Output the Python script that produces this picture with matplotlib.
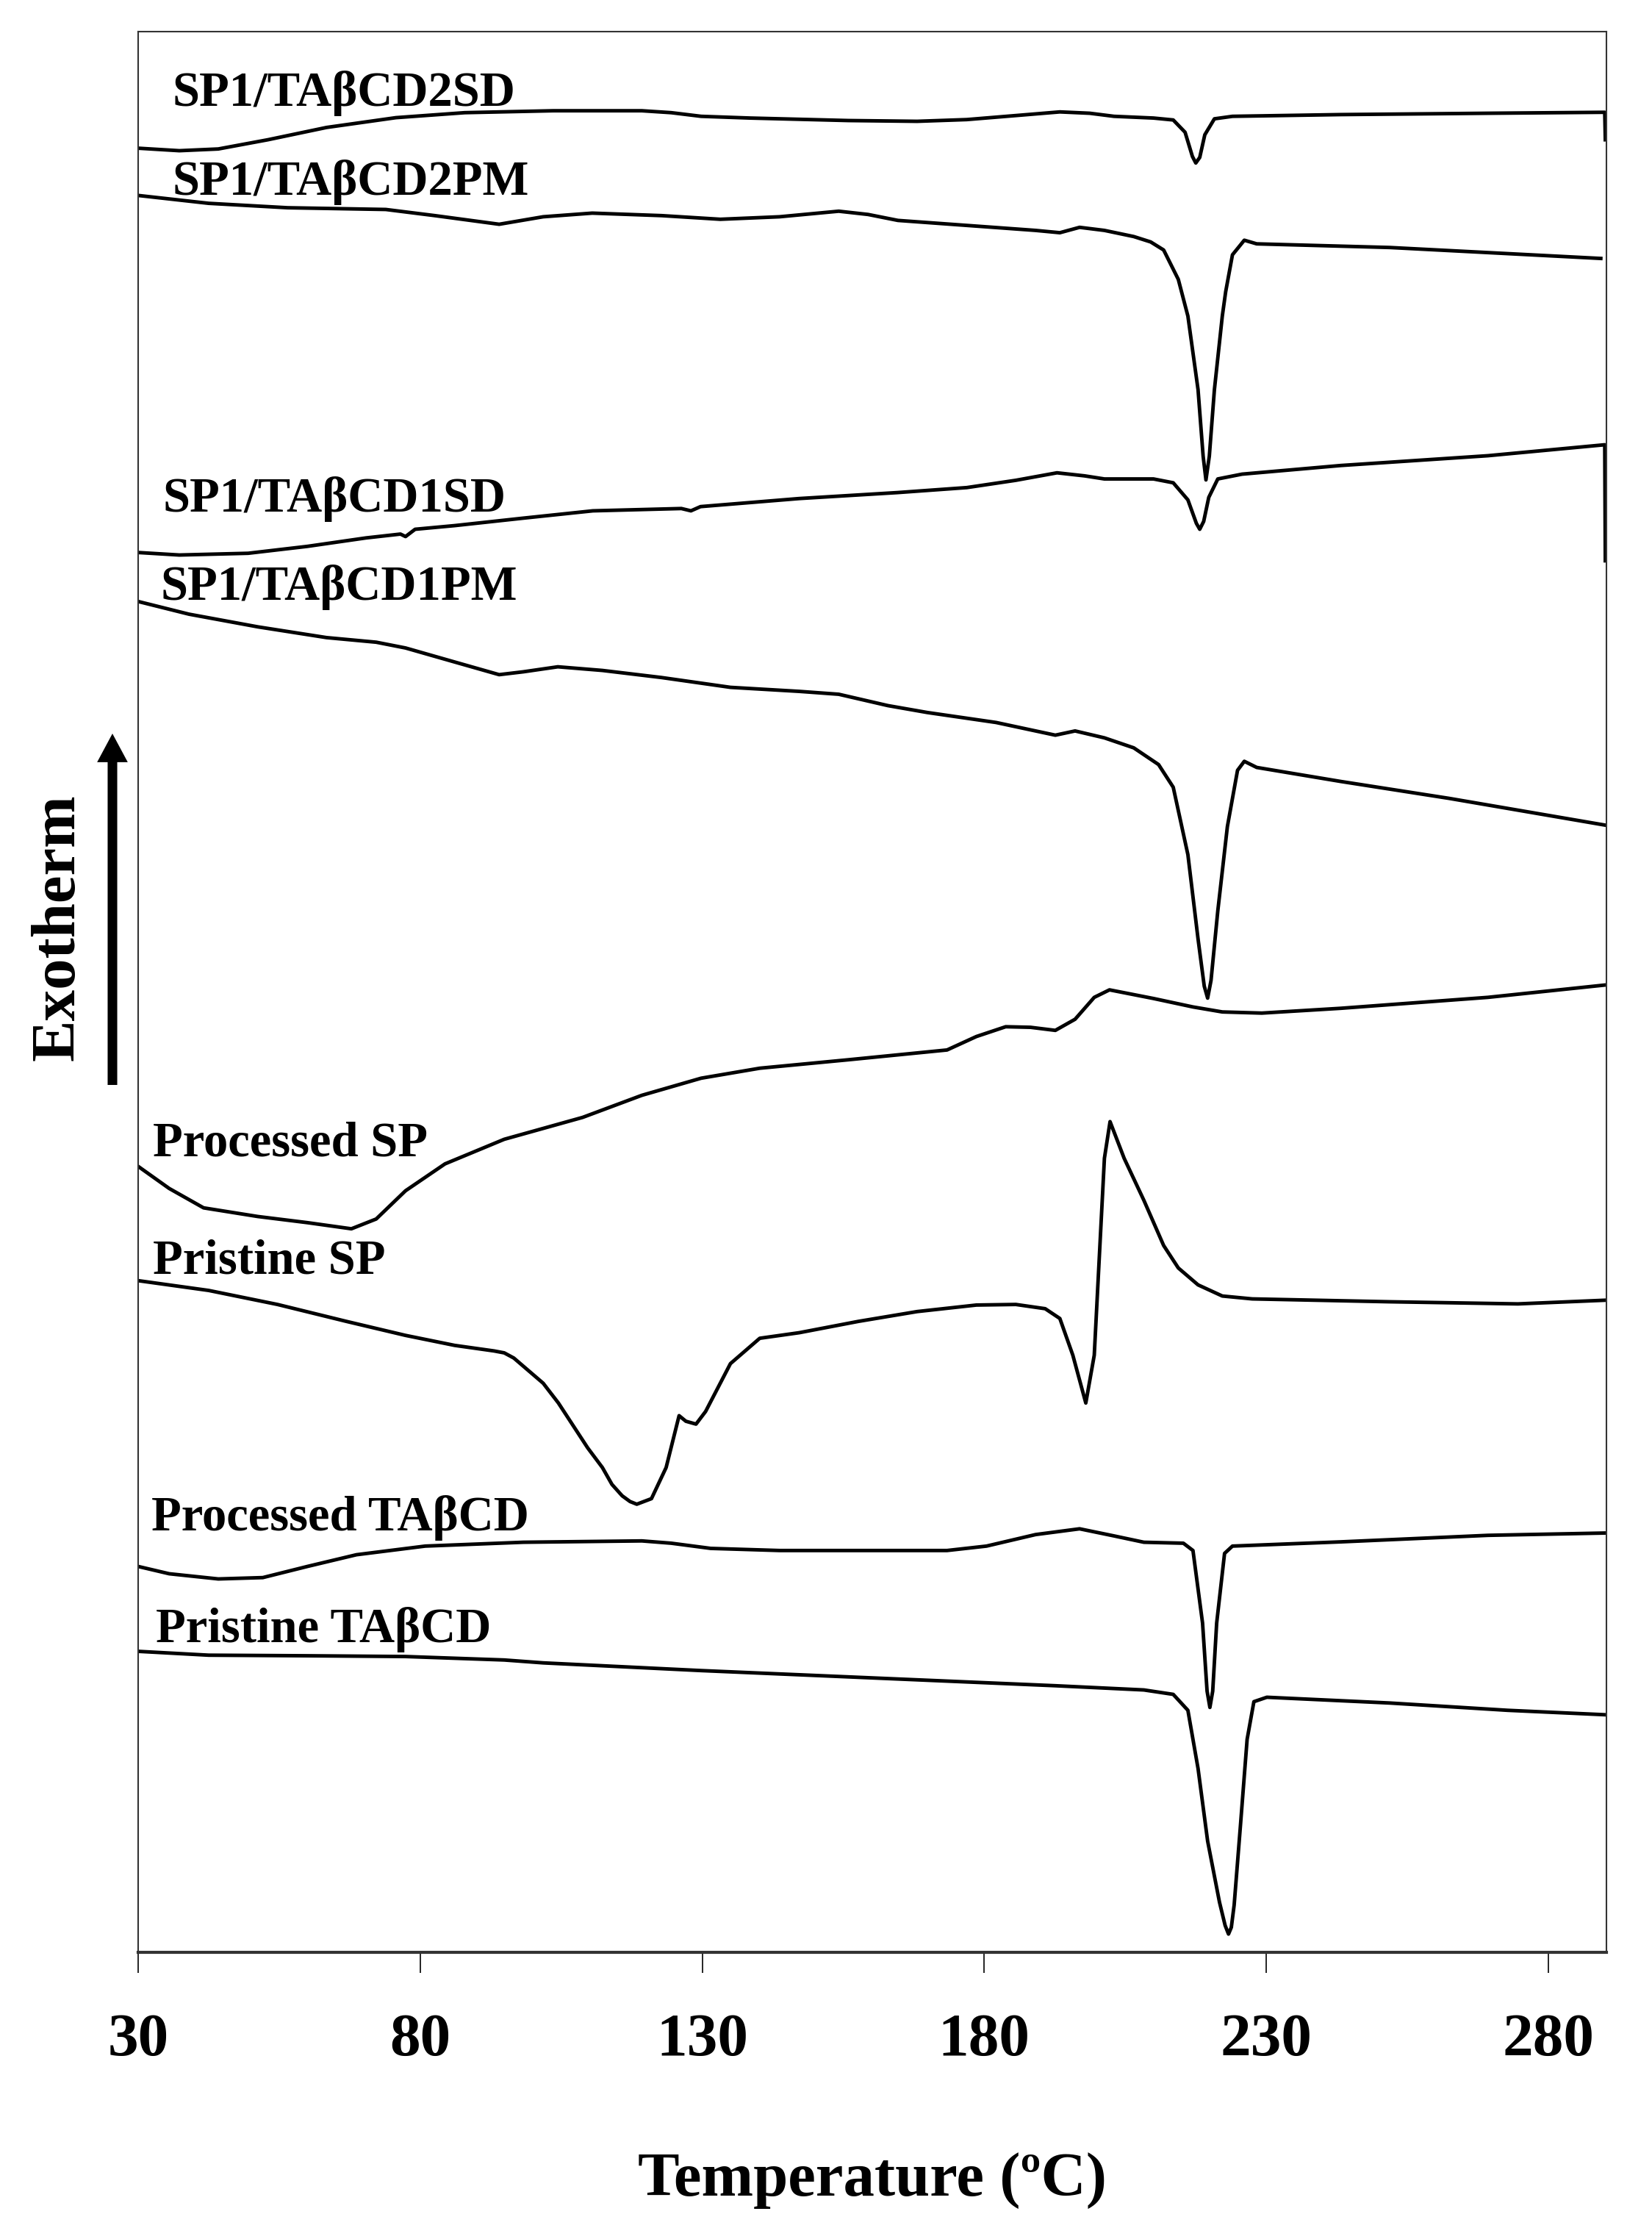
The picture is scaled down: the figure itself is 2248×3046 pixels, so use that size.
import matplotlib
matplotlib.use("Agg")
from matplotlib import pyplot as plt

plt.rcParams["font.family"] = ["Liberation Serif", "DejaVu Serif"]
plt.rcParams["font.weight"] = "bold"

# DSC thermograms: temperature (ºC) and heat flow (arbitrary units, curves stacked)
t_sd2 = [30.0, 37.3, 44.2, 53.0, 63.4, 75.7, 87.9, 103.6, 119.3, 124.5, 129.8, 138.5, 155.9,
         168.1, 176.9, 185.6, 193.4, 198.7, 203.0, 210.0, 213.5, 215.6, 216.9, 217.5, 218.2,
         219.1, 220.8, 224.0, 243.2, 269.3, 290.0, 290.1]
hf_sd2 = [93.93, 93.80, 93.89, 94.37, 95.01, 95.52, 95.78, 95.88, 95.88, 95.78, 95.59, 95.50,
          95.37, 95.33, 95.42, 95.63, 95.82, 95.75, 95.59, 95.50, 95.40, 94.76, 93.50, 93.16,
          93.45, 94.63, 95.46, 95.59, 95.68, 95.75, 95.80, 94.37]

t_pm2 = [30.0, 42.5, 56.5, 73.9, 82.6, 94.0, 101.8, 110.5, 122.8, 133.2, 143.7, 154.2, 159.4,
         164.7, 176.9, 189.1, 193.4, 196.9, 201.3, 206.5, 209.5, 211.8, 214.4, 216.1, 217.9,
         218.8, 219.3, 219.9, 220.8, 222.2, 222.8, 224.0, 226.1, 228.3, 251.9, 289.3]
hf_pm2 = [91.47, 91.06, 90.83, 90.74, 90.42, 89.97, 90.36, 90.55, 90.42, 90.23, 90.36, 90.65,
          90.48, 90.17, 89.91, 89.65, 89.53, 89.81, 89.65, 89.33, 89.05, 88.63, 87.10, 85.19,
          81.36, 77.90, 76.66, 77.90, 81.36, 85.19, 86.46, 88.38, 89.14, 88.95, 88.76, 88.19]

t_sd1 = [30.0, 37.3, 49.5, 60.0, 70.4, 76.5, 77.4, 79.1, 86.1, 98.3, 110.6, 126.3, 128.0,
         129.7, 147.2, 164.6, 176.9, 185.6, 192.9, 197.8, 201.3, 210.0, 213.5, 216.1, 217.6,
         218.2, 218.9, 219.8, 221.4, 225.7, 243.2, 269.3, 290.0, 290.1]
hf_sd1 = [72.88, 72.75, 72.84, 73.20, 73.64, 73.84, 73.71, 74.09, 74.28, 74.67, 75.05, 75.17,
          75.05, 75.27, 75.69, 76.00, 76.26, 76.64, 77.03, 76.87, 76.71, 76.71, 76.51, 75.62,
          74.40, 74.09, 74.50, 75.75, 76.71, 76.96, 77.41, 77.92, 78.49, 72.45]

t_pm1 = [30.0, 39.0, 51.2, 63.4, 72.2, 77.4, 86.1, 94.0, 98.3, 104.4, 112.3, 122.8, 135.0,
         147.2, 154.2, 162.9, 169.9, 182.1, 192.6, 196.1, 201.3, 206.5, 210.9, 213.5, 216.1,
         217.9, 219.0, 219.6, 220.2, 221.4, 223.1, 224.9, 226.1, 228.3, 243.2, 262.4, 290.0]
hf_pm1 = [70.33, 69.67, 69.01, 68.45, 68.21, 67.91, 67.18, 66.52, 66.67, 66.93, 66.74, 66.37,
          65.86, 65.65, 65.50, 64.91, 64.55, 64.03, 63.37, 63.59, 63.23, 62.71, 61.84, 60.66,
          57.15, 52.76, 50.30, 49.68, 50.60, 54.22, 58.61, 61.54, 62.01, 61.69, 60.96, 60.08,
          58.69]

t_psp = [30.0, 35.5, 41.6, 51.2, 60.0, 67.8, 72.2, 77.4, 84.4, 94.9, 108.8, 119.3, 129.8,
         140.2, 155.9, 173.4, 178.6, 183.8, 188.2, 192.6, 196.1, 199.5, 202.2, 210.0, 217.0,
         222.2, 229.2, 243.2, 269.3, 290.0]
hf_psp = [40.92, 39.77, 38.76, 38.31, 37.99, 37.67, 38.18, 39.65, 41.05, 42.33, 43.47, 44.62,
          45.51, 46.03, 46.47, 46.98, 47.68, 48.19, 48.16, 48.00, 48.58, 49.72, 50.11, 49.66,
          49.22, 48.96, 48.90, 49.15, 49.72, 50.36]

t_rsp = [30.0, 42.5, 54.7, 66.9, 77.4, 86.1, 93.1, 94.9, 96.6, 101.8, 104.5, 107.1, 109.7,
         112.3, 114.0, 115.8, 117.2, 118.4, 121.0, 123.6, 125.9, 127.1, 128.9, 130.6, 135.0,
         140.2, 147.2, 157.7, 168.1, 178.6, 185.6, 190.8, 193.4, 195.7, 198.0, 199.5, 200.4,
         201.3, 202.3, 204.8, 208.3, 211.8, 214.4, 217.9, 222.2, 227.5, 251.9, 274.6, 290.0]
hf_rsp = [34.97, 34.46, 33.73, 32.85, 32.12, 31.60, 31.31, 31.21, 30.94, 29.63, 28.60, 27.43,
          26.26, 25.24, 24.36, 23.77, 23.47, 23.33, 23.62, 25.24, 27.94, 27.65, 27.50, 28.16,
          30.65, 31.97, 32.26, 32.85, 33.36, 33.70, 33.73, 33.51, 33.00, 31.09, 28.60, 31.09,
          36.22, 41.34, 43.25, 41.34, 39.15, 36.80, 35.63, 34.75, 34.17, 34.02, 33.87, 33.76,
          33.95]

t_pcd = [30.0, 35.5, 44.2, 52.1, 60.0, 68.7, 80.9, 98.3, 119.3, 124.5, 131.5, 143.7, 173.4,
         180.4, 189.1, 196.9, 203.0, 208.3, 215.3, 217.0, 218.7, 219.5, 220.0, 220.5, 221.2,
         222.6, 224.0, 243.2, 269.3, 290.0]
hf_pcd = [20.09, 19.71, 19.44, 19.51, 20.09, 20.70, 21.15, 21.35, 21.42, 21.30, 21.03, 20.92,
          20.92, 21.15, 21.75, 22.05, 21.68, 21.35, 21.30, 20.92, 17.14, 13.60, 12.75, 13.60,
          17.14, 20.77, 21.15, 21.37, 21.71, 21.83]

t_rcd = [30.0, 42.5, 60.0, 77.4, 94.9, 101.8, 129.7, 164.7, 192.6, 208.3, 213.5, 216.1, 217.9,
         219.6, 221.7, 222.7, 223.3, 223.8, 224.3, 225.4, 226.6, 227.8, 230.1, 251.9, 272.8,
         290.0]
hf_rcd = [15.67, 15.47, 15.44, 15.40, 15.22, 15.07, 14.67, 14.23, 13.88, 13.66, 13.43, 12.60,
          9.57, 5.79, 2.61, 1.40, 0.95, 1.30, 2.46, 6.54, 11.09, 13.05, 13.28, 12.98, 12.60,
          12.37]

names = ["SP1/TAβCD2SD", "SP1/TAβCD2PM", "SP1/TAβCD1SD", "SP1/TAβCD1PM",
         "Processed SP", "Pristine SP", "Processed TAβCD", "Pristine TAβCD"]
curves = [(t_sd2, hf_sd2), (t_pm2, hf_pm2), (t_sd1, hf_sd1), (t_pm1, hf_pm1),
          (t_psp, hf_psp), (t_rsp, hf_rsp), (t_pcd, hf_pcd), (t_rcd, hf_rcd)]

# where each name sits (left edge, baseline) in data units
label_pos = [(36.1, 96.15), (36.1, 91.50), (34.4, 75.01), (34.0, 70.42),
             (32.6, 41.45), (32.6, 35.36), (32.3, 21.97), (33.1, 16.15)]

fig = plt.figure(figsize=(22.48, 30.46), dpi=100)
ax = fig.add_axes([0.08363, 0.12804, 0.88879, 0.85784])

for (t, hf), name, (lx, ly) in zip(curves, names, label_pos):
    ax.plot(t, hf, color="black", lw=3.5, solid_joinstyle="round")
    ax.text(lx, ly, name, ha="left", va="baseline", fontsize=48, fontweight="bold")

ax.set_xlim(30, 290.3)
ax.set_ylim(0, 100)
ax.set_xticks([30, 80, 130, 180, 230, 280])
ax.set_yticks([])
ax.tick_params(axis="x", direction="out", length=20, width=1.2, pad=40, labelsize=60)
for s in ["left", "right", "top"]:
    ax.spines[s].set_linewidth(1.5)
    ax.spines[s].set_color("#333333")
ax.spines["bottom"].set_linewidth(3)
ax.spines["bottom"].set_color("#333333")

ax.set_xlabel("Temperature (ºC)", fontsize=61, fontweight="bold", labelpad=82)

fig.text(80 / 2248, 1 - 1262 / 3046, "Exotherm", rotation=90, ha="center", va="center",
         fontsize=61, fontweight="bold")
ax.annotate("", xy=(153 / 2248, 1 - 998 / 3046), xytext=(153 / 2248, 1 - 1476 / 3046),
            xycoords="figure fraction", textcoords="figure fraction",
            arrowprops=dict(width=9.4, headwidth=30, headlength=28, shrink=0,
                            facecolor="black", edgecolor="none"))

plt.savefig("out.png", dpi=100)
